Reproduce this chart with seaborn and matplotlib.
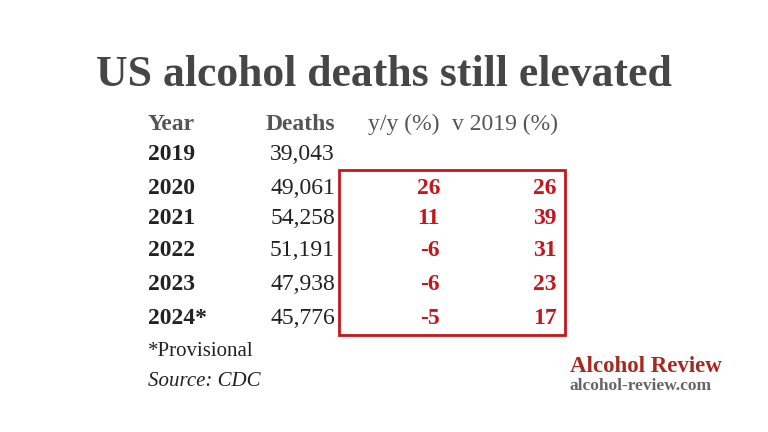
import matplotlib
matplotlib.use("Agg")
import matplotlib.pyplot as plt
import seaborn as sns
from matplotlib.patches import Rectangle

years = ["2019", "2020", "2021", "2022", "2023", "2024*"]
deaths = [39043, 49061, 54258, 51191, 47938, 45776]
yoy = [None, 26, 11, -6, -6, -5]
v2019 = [None, 26, 39, 31, 23, 17]
headers = ["Year", "Deaths", "y/y (%)", "v 2019 (%)"]

sns.set_theme(style="white")
plt.rcParams["font.family"] = ["Liberation Serif", "DejaVu Serif"]

fig = plt.figure(figsize=(7.68, 4.32), dpi=100)
ax = fig.add_axes([0, 0, 1, 1])
ax.set_xlim(0, 768)
ax.set_ylim(432, 0)
ax.axis("off")

red = "#c4161c"
fs = 17

ax.text(384, 75, "US alcohol deaths still elevated", ha="center", va="center",
        fontsize=31.5, fontweight="bold", color="#464646")

hy = 124
ax.text(148, hy, headers[0], ha="left", va="center", fontsize=fs, color="#555555", fontweight="bold")
ax.text(335, hy, headers[1], ha="right", va="center", fontsize=fs, color="#555555", fontweight="bold")
ax.text(440, hy, headers[2], ha="right", va="center", fontsize=fs, color="#555555")
ax.text(558, hy, headers[3], ha="right", va="center", fontsize=fs, color="#555555")

row_y = [155, 188, 219, 251, 284, 319]
for y, yr, d, a, b in zip(row_y, years, deaths, yoy, v2019):
    ax.text(148, y, yr, ha="left", va="center", fontsize=fs, fontweight="bold", color="#222222")
    ax.text(335, y, f"{d:,}", ha="right", va="center", fontsize=fs, color="#222222")
    if a is not None:
        ax.text(440, y, str(a), ha="right", va="center", fontsize=fs, fontweight="bold", color=red)
        ax.text(557, y, str(b), ha="right", va="center", fontsize=fs, fontweight="bold", color=red)

ax.add_patch(Rectangle((339, 170), 226, 165, fill=False, edgecolor=red, linewidth=2))

ax.text(148, 352, "*Provisional", ha="left", va="center", fontsize=15, color="#222222")
ax.text(148, 381, "Source: CDC", ha="left", va="center", fontsize=15, style="italic", color="#222222")

ax.text(570, 366, "Alcohol Review", ha="left", va="center", fontsize=16.5, fontweight="bold", color="#a52a1e")
ax.text(570, 386, "alcohol-review.com", ha="left", va="center", fontsize=12.5, fontweight="bold", color="#666666")

fig.savefig("out.png", dpi=100, facecolor="white")
